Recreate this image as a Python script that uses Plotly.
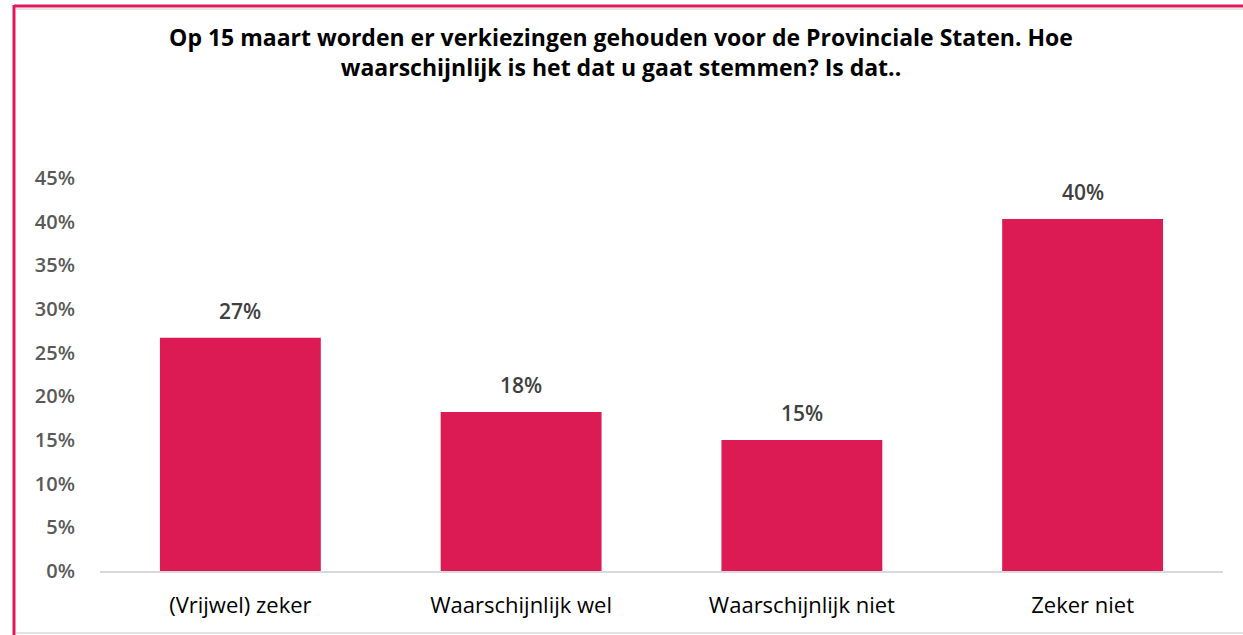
import plotly.graph_objects as go

categories = ["(Vrijwel) zeker", "Waarschijnlijk wel", "Waarschijnlijk niet", "Zeker niet"]
values = [0.267, 0.182, 0.150, 0.403]
labels = ["27%", "18%", "15%", "40%"]
tick_vals = [0, 0.05, 0.10, 0.15, 0.20, 0.25, 0.30, 0.35, 0.40, 0.45]
tick_text = ["0%", "5%", "10%", "15%", "20%", "25%", "30%", "35%", "40%", "45%"]
title_text = ("Op 15 maart worden er verkiezingen gehouden voor de Provinciale Staten. Hoe<br>"
              "waarschijnlijk is het dat u gaat stemmen? Is dat..")

W, H = 1243, 635
ML, MR, MT, MB = 100, 20, 178, 64
PW, PH = W - ML - MR, H - MT - MB

def px(x):
    return (x - ML) / PW

def py(y):
    return (H - MB - y) / PH

fig = go.Figure(go.Bar(
    x=categories, y=values,
    marker=dict(color="#DC1A54", line=dict(width=0)),
    cliponaxis=False,
))

for c, v, t in zip(categories, values, labels):
    fig.add_annotation(x=c, y=v, text=t, showarrow=False, yanchor="bottom", yshift=11,
                       font=dict(family="Open Sans", size=21, color="#404040", weight=600))

fig.update_layout(
    width=W, height=H,
    margin=dict(l=ML, r=MR, t=MT, b=MB),
    paper_bgcolor="white", plot_bgcolor="white",
    bargap=0.427,
    showlegend=False,
    title=dict(text=title_text, x=621 / W, xref="container", xanchor="center", y=1 - 46 / H, yanchor="middle",
               font=dict(family="Open Sans", size=23, color="#000000", weight=700)),
    xaxis=dict(showgrid=False, showline=True, linecolor="#D9D9D9", linewidth=2,
               ticks="", tickfont=dict(family="Open Sans", size=22, color="#000000", weight=500),
               ticklabelstandoff=14),
    yaxis=dict(range=[0, 0.45], tickvals=tick_vals, ticktext=tick_text, showgrid=False,
               zeroline=False, showline=False, ticks="", ticklabelstandoff=24,
               tickfont=dict(family="Open Sans", size=20, color="#595959", weight=600)),
)

# outer frame: pink top and left, light gray bottom
fig.add_shape(type="line", xref="paper", yref="paper", x0=px(14), x1=px(W), y0=py(6), y1=py(6),
              line=dict(color="#E0185A", width=3))
fig.add_shape(type="line", xref="paper", yref="paper", x0=px(16), x1=px(W), y0=py(9), y1=py(9),
              line=dict(color="#E3E3E3", width=2))
fig.add_shape(type="line", xref="paper", yref="paper", x0=px(14), x1=px(14), y0=py(5), y1=py(H),
              line=dict(color="#E0185A", width=3))
fig.add_shape(type="line", xref="paper", yref="paper", x0=px(16), x1=px(W), y0=py(633), y1=py(633),
              line=dict(color="#E3E3E3", width=2))

fig.write_html("out.html", config={"displayModeBar": False},
               post_script="document.body.style.margin='0';document.body.style.overflow='hidden';")
